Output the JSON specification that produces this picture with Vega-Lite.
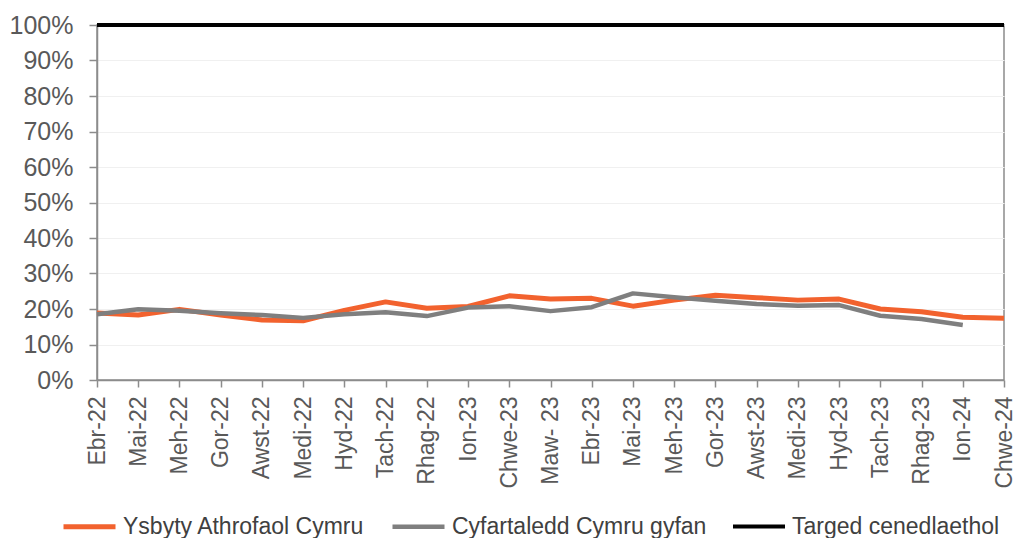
{
  "$schema": "https://vega.github.io/schema/vega-lite/v6.json",
  "width": 907,
  "height": 355,
  "autosize": {"type": "none"},
  "padding": {"left": 97, "top": 25, "right": 13, "bottom": 158},
  "background": "white",
  "config": {
    "font": "Liberation Sans",
    "view": {"stroke": "#8c8c8c", "strokeWidth": 1.5},
    "axis": {
      "labelFont": "Liberation Sans",
      "labelColor": "#595959",
      "domainColor": "#8c8c8c",
      "domainWidth": 1.5,
      "tickColor": "#8c8c8c",
      "tickWidth": 1.5,
      "gridColor": "#f0f0f0",
      "gridWidth": 1
    }
  },
  "data": {
    "values": [
      {"month": "Ebr-22", "series": "Ysbyty Athrofaol Cymru", "pct": 18.9},
      {"month": "Mai-22", "series": "Ysbyty Athrofaol Cymru", "pct": 18.3},
      {"month": "Meh-22", "series": "Ysbyty Athrofaol Cymru", "pct": 19.9},
      {"month": "Gor-22", "series": "Ysbyty Athrofaol Cymru", "pct": 18.3},
      {"month": "Awst-22", "series": "Ysbyty Athrofaol Cymru", "pct": 16.9},
      {"month": "Medi-22", "series": "Ysbyty Athrofaol Cymru", "pct": 16.7},
      {"month": "Hyd-22", "series": "Ysbyty Athrofaol Cymru", "pct": 19.6},
      {"month": "Tach-22", "series": "Ysbyty Athrofaol Cymru", "pct": 22.0},
      {"month": "Rhag-22", "series": "Ysbyty Athrofaol Cymru", "pct": 20.2},
      {"month": "Ion-23", "series": "Ysbyty Athrofaol Cymru", "pct": 20.7},
      {"month": "Chwe-23", "series": "Ysbyty Athrofaol Cymru", "pct": 23.7},
      {"month": "Maw- 23", "series": "Ysbyty Athrofaol Cymru", "pct": 22.8},
      {"month": "Ebr-23", "series": "Ysbyty Athrofaol Cymru", "pct": 23.0},
      {"month": "Mai-23", "series": "Ysbyty Athrofaol Cymru", "pct": 20.8},
      {"month": "Meh-23", "series": "Ysbyty Athrofaol Cymru", "pct": 22.5},
      {"month": "Gor-23", "series": "Ysbyty Athrofaol Cymru", "pct": 23.9},
      {"month": "Awst-23", "series": "Ysbyty Athrofaol Cymru", "pct": 23.2},
      {"month": "Medi-23", "series": "Ysbyty Athrofaol Cymru", "pct": 22.5},
      {"month": "Hyd-23", "series": "Ysbyty Athrofaol Cymru", "pct": 22.8},
      {"month": "Tach-23", "series": "Ysbyty Athrofaol Cymru", "pct": 20.0},
      {"month": "Rhag-23", "series": "Ysbyty Athrofaol Cymru", "pct": 19.2},
      {"month": "Ion-24", "series": "Ysbyty Athrofaol Cymru", "pct": 17.7},
      {"month": "Chwe-24", "series": "Ysbyty Athrofaol Cymru", "pct": 17.4},
      {"month": "Ebr-22", "series": "Cyfartaledd Cymru gyfan", "pct": 18.5},
      {"month": "Mai-22", "series": "Cyfartaledd Cymru gyfan", "pct": 19.9},
      {"month": "Meh-22", "series": "Cyfartaledd Cymru gyfan", "pct": 19.5},
      {"month": "Gor-22", "series": "Cyfartaledd Cymru gyfan", "pct": 18.8},
      {"month": "Awst-22", "series": "Cyfartaledd Cymru gyfan", "pct": 18.3},
      {"month": "Medi-22", "series": "Cyfartaledd Cymru gyfan", "pct": 17.5},
      {"month": "Hyd-22", "series": "Cyfartaledd Cymru gyfan", "pct": 18.5},
      {"month": "Tach-22", "series": "Cyfartaledd Cymru gyfan", "pct": 19.1},
      {"month": "Rhag-22", "series": "Cyfartaledd Cymru gyfan", "pct": 18.0},
      {"month": "Ion-23", "series": "Cyfartaledd Cymru gyfan", "pct": 20.4},
      {"month": "Chwe-23", "series": "Cyfartaledd Cymru gyfan", "pct": 20.8},
      {"month": "Maw- 23", "series": "Cyfartaledd Cymru gyfan", "pct": 19.4},
      {"month": "Ebr-23", "series": "Cyfartaledd Cymru gyfan", "pct": 20.5},
      {"month": "Mai-23", "series": "Cyfartaledd Cymru gyfan", "pct": 24.4},
      {"month": "Meh-23", "series": "Cyfartaledd Cymru gyfan", "pct": 23.3},
      {"month": "Gor-23", "series": "Cyfartaledd Cymru gyfan", "pct": 22.3},
      {"month": "Awst-23", "series": "Cyfartaledd Cymru gyfan", "pct": 21.4},
      {"month": "Medi-23", "series": "Cyfartaledd Cymru gyfan", "pct": 20.9},
      {"month": "Hyd-23", "series": "Cyfartaledd Cymru gyfan", "pct": 21.1},
      {"month": "Tach-23", "series": "Cyfartaledd Cymru gyfan", "pct": 18.1},
      {"month": "Rhag-23", "series": "Cyfartaledd Cymru gyfan", "pct": 17.2},
      {"month": "Ion-24", "series": "Cyfartaledd Cymru gyfan", "pct": 15.5},
      {"month": "Ebr-22", "series": "Targed cenedlaethol", "pct": 100},
      {"month": "Mai-22", "series": "Targed cenedlaethol", "pct": 100},
      {"month": "Meh-22", "series": "Targed cenedlaethol", "pct": 100},
      {"month": "Gor-22", "series": "Targed cenedlaethol", "pct": 100},
      {"month": "Awst-22", "series": "Targed cenedlaethol", "pct": 100},
      {"month": "Medi-22", "series": "Targed cenedlaethol", "pct": 100},
      {"month": "Hyd-22", "series": "Targed cenedlaethol", "pct": 100},
      {"month": "Tach-22", "series": "Targed cenedlaethol", "pct": 100},
      {"month": "Rhag-22", "series": "Targed cenedlaethol", "pct": 100},
      {"month": "Ion-23", "series": "Targed cenedlaethol", "pct": 100},
      {"month": "Chwe-23", "series": "Targed cenedlaethol", "pct": 100},
      {"month": "Maw- 23", "series": "Targed cenedlaethol", "pct": 100},
      {"month": "Ebr-23", "series": "Targed cenedlaethol", "pct": 100},
      {"month": "Mai-23", "series": "Targed cenedlaethol", "pct": 100},
      {"month": "Meh-23", "series": "Targed cenedlaethol", "pct": 100},
      {"month": "Gor-23", "series": "Targed cenedlaethol", "pct": 100},
      {"month": "Awst-23", "series": "Targed cenedlaethol", "pct": 100},
      {"month": "Medi-23", "series": "Targed cenedlaethol", "pct": 100},
      {"month": "Hyd-23", "series": "Targed cenedlaethol", "pct": 100},
      {"month": "Tach-23", "series": "Targed cenedlaethol", "pct": 100},
      {"month": "Rhag-23", "series": "Targed cenedlaethol", "pct": 100},
      {"month": "Ion-24", "series": "Targed cenedlaethol", "pct": 100},
      {"month": "Chwe-24", "series": "Targed cenedlaethol", "pct": 100}
    ]
  },
  "mark": {"type": "line", "strokeCap": "butt", "strokeJoin": "round", "clip": false},
  "encoding": {
    "x": {
      "field": "month",
      "type": "ordinal",
      "sort": null,
      "scale": {"type": "point", "padding": 0},
      "axis": {
        "title": null,
        "labelAngle": -90,
        "labelFontSize": 23,
        "labelPadding": 9,
        "tickSize": 7,
        "grid": false,
        "labelOverlap": false
      }
    },
    "y": {
      "field": "pct",
      "type": "quantitative",
      "scale": {"domain": [0, 100], "nice": false},
      "axis": {
        "title": null,
        "values": [0, 10, 20, 30, 40, 50, 60, 70, 80, 90, 100],
        "labelExpr": "datum.value + '%'",
        "labelFontSize": 25,
        "labelPadding": 16,
        "tickSize": 8,
        "grid": true
      }
    },
    "color": {
      "field": "series",
      "type": "nominal",
      "scale": {
        "domain": ["Ysbyty Athrofaol Cymru", "Cyfartaledd Cymru gyfan", "Targed cenedlaethol"],
        "range": ["#f2622e", "#7f7f7f", "#000000"]
      },
      "legend": {
        "title": null,
        "orient": "none",
        "direction": "horizontal",
        "legendX": -36,
        "legendY": 473,
        "symbolType": "stroke",
        "symbolSize": 2704,
        "symbolStrokeWidth": 4,
        "labelFont": "Liberation Sans",
        "labelFontSize": 23,
        "labelColor": "#404040",
        "labelOffset": 5,
        "columnPadding": 18,
        "labelLimit": 400
      }
    },
    "strokeWidth": {
      "field": "series",
      "type": "nominal",
      "scale": {
        "domain": ["Ysbyty Athrofaol Cymru", "Cyfartaledd Cymru gyfan", "Targed cenedlaethol"],
        "range": [5, 4, 3]
      },
      "legend": null
    }
  }
}
